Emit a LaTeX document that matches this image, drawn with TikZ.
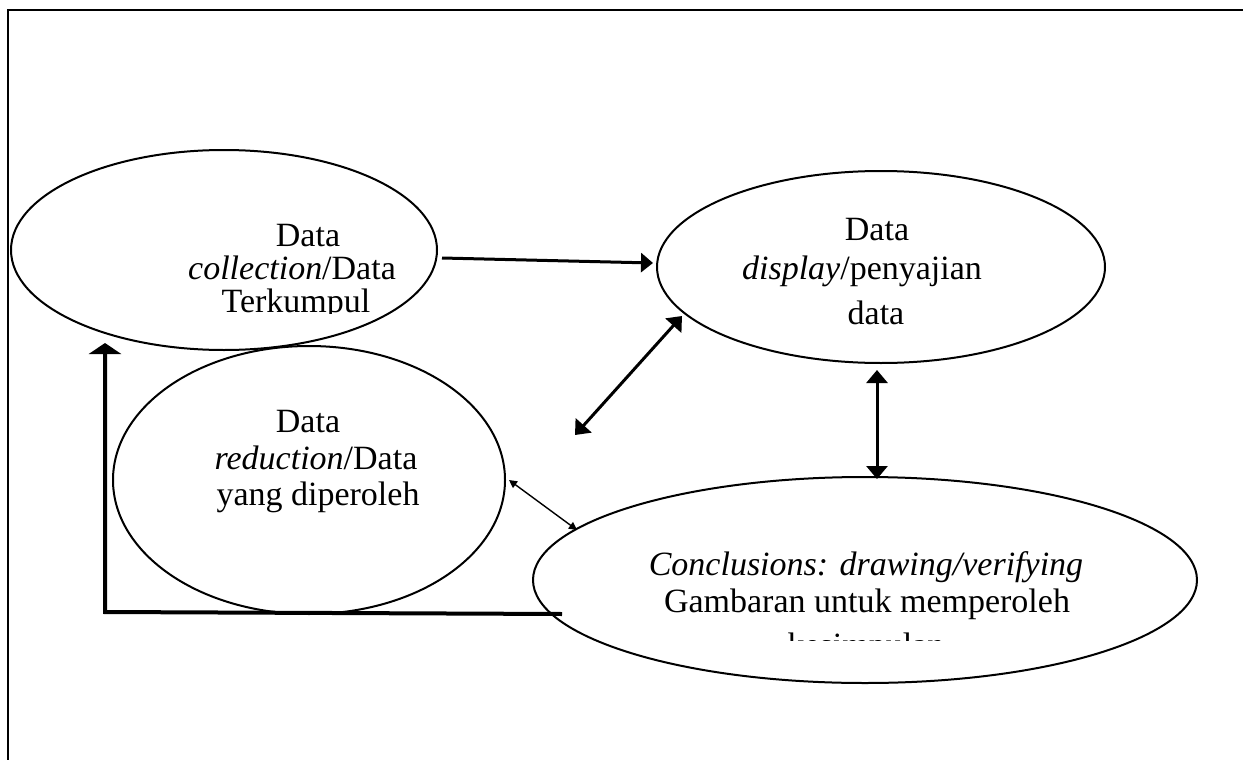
\documentclass[tikz,border=0pt]{standalone}
\usepackage{fontspec}
\setmainfont{Liberation Serif}
\usetikzlibrary{shapes.geometric,arrows.meta}
\begin{document}
\begin{tikzpicture}[x=0.5pt,y=-0.5pt,
  oval/.style={draw,ellipse,line width=1pt,inner sep=0pt,outer sep=0pt},
  txt/.style={anchor=base,inner sep=0pt,font=\fontsize{17}{20}\selectfont},
  bigarrow/.style={line width=1.5pt,-{Triangle[length=6pt,width=9.5pt]}},
  dblarrow/.style={line width=1.5pt,{Triangle[length=6.5pt,width=10.5pt]}-{Triangle[length=6.5pt,width=10.5pt]}},
  thinarrow/.style={line width=0.7pt,{Triangle[length=4pt,width=4pt]}-{Triangle[length=4pt,width=4pt]}},
  backarrow/.style={line width=2pt,-{Triangle[length=5.5pt,width=16pt]}}]
\useasboundingbox (0,0) rectangle (1243,760);
\draw[line width=1pt] (8,760) -- (8,10) -- (1243,10);

% ellipses
\node[oval,minimum width=213pt,minimum height=100pt] (e1) at (224,250) {};
\node[oval,minimum width=224pt,minimum height=96pt] (e2) at (881,267) {};
\node[oval,fill=white,minimum width=196pt,minimum height=134pt] (e3) at (309,480) {};
\node[oval,minimum width=332pt,minimum height=103pt] (e4) at (865,580) {};

% texts
\begin{scope}
\clip (100,200) rectangle (480,313);
\node[txt] (t1a) at (308,246) {Data};
\node[txt] (t1b) at (292,279) {\textit{collection}/Data};
\node[txt] (t1c) at (296,312) {Terkumpul};
\end{scope}
\begin{scope}
\clip (680,200) rectangle (1080,324);
\node[txt] (t2a) at (877,240) {Data};
\node[txt] (t2b) at (862,279) {\textit{display}/penyajian};
\node[txt] (t2c) at (876,324) {data};
\end{scope}
\node[txt] (t3a) at (308,432) {Data};
\node[txt] (t3b) at (316,469) {\textit{reduction}/Data};
\node[txt] (t3c) at (318,505) {yang diperoleh};
\begin{scope}
\clip (560,530) rectangle (1180,640);
\node[txt] (t4a) at (866,575) {\textit{Conclusions: drawing/verifying}};
\node[txt] (t4b) at (867,612) {Gambaran untuk memperoleh};
\node[txt] (t4c) at (866,656) {kesimpulan};
\end{scope}

% connector end points
\coordinate (c12a) at (442,258);
\coordinate (c12b) at (653,263);
\coordinate (c23a) at (575,435);
\coordinate (c23b) at (682,316);
\coordinate (c24a) at (877,370);
\coordinate (c24b) at (877,479);
\coordinate (c34a) at (509,480);
\coordinate (c34b) at (577,530);
\coordinate (cfa) at (562,614);
\coordinate (cfk) at (105,612);
\coordinate (cfb) at (105,343);

\draw[bigarrow] (c12a) -- (c12b);
\draw[dblarrow] (c23a) -- (c23b);
\draw[dblarrow] (c24a) -- (c24b);
\draw[thinarrow] (c34a) -- (c34b);
\draw[backarrow] (cfa) -- (cfk) -- (cfb);
\end{tikzpicture}
\end{document}
